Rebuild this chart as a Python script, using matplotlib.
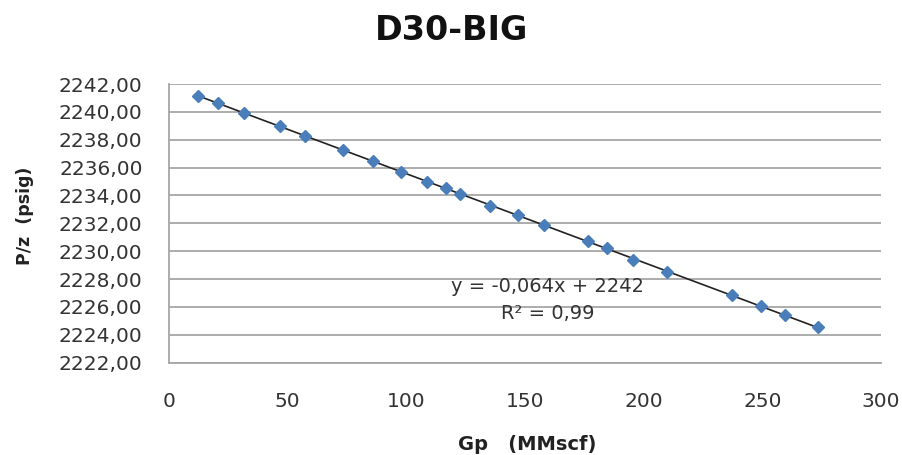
import numpy as np
import matplotlib
matplotlib.use('Agg')
import matplotlib.pyplot as plt
from matplotlib.ticker import FuncFormatter

plt.rcParams['font.family'] = ['DejaVu Sans']

# Cumulative gas production (MMscf) and P/z (psig)
gp = [12.4, 20.5, 31.8, 46.8, 57.4, 73.5, 85.9, 97.8, 108.7, 116.9, 122.8,
      135.4, 147.1, 157.9, 176.4, 184.4, 195.4, 209.8, 237.1, 249.4, 259.5, 273.4]
pz = [2241.16, 2240.61, 2239.90, 2238.98, 2238.27, 2237.26, 2236.47, 2235.70,
      2234.99, 2234.51, 2234.10, 2233.26, 2232.60, 2231.86, 2230.73, 2230.23,
      2229.37, 2228.50, 2226.85, 2226.06, 2225.42, 2224.56]

title = 'D30-BIG'
eq_text = 'y = -0,064x + 2242'
r2_text = 'R² = 0,99'

fig = plt.figure(figsize=(9.02, 4.55), dpi=100)
ax = fig.add_axes([169 / 902, 1 - 362.7 / 455, (881 - 169) / 902, (362.7 - 84) / 455])

# linear trend line over the data range
slope, intercept = np.polyfit(gp, pz, 1)
xs = np.array([min(gp), max(gp)])
ax.plot(xs, slope * xs + intercept, color='#222222', lw=1.2, zorder=2)

ax.plot(gp, pz, linestyle='none', marker='D', markersize=6.3,
        color='#4A7EBB', markeredgecolor='#4A7EBB', zorder=3)

ax.set_xlim(0, 300)
ax.set_ylim(2222, 2242)
ax.set_xticks(np.arange(0, 301, 50))
ax.set_yticks(np.arange(2222, 2243, 2))
ax.yaxis.set_major_formatter(FuncFormatter(lambda v, p: f'{v:.2f}'.replace('.', ',')))

ax.grid(axis='y', color='#a6a6a6', lw=1.3)
ax.set_axisbelow(True)
for s in ['top', 'right']:
    ax.spines[s].set_visible(False)
for s in ['left', 'bottom']:
    ax.spines[s].set_color('#a6a6a6')
    ax.spines[s].set_linewidth(1.3)
ax.tick_params(axis='both', length=0, labelsize=14.5, colors='#333333')
ax.tick_params(axis='x', pad=21)
ax.tick_params(axis='y', pad=19)

ax.set_xlabel('Gp   (MMscf)', fontsize=14, fontweight='bold', color='#222222', va='center')
ax.set_ylabel('P/z  (psig)', fontsize=12.5, fontweight='bold', color='#222222', va='center')
ax.xaxis.set_label_coords(0.503, -0.292)
ax.yaxis.set_label_coords(-0.202, 0.526)

fig.text(452 / 902, 1 - 31 / 455, title, ha='center', va='center',
         fontsize=24, fontweight='bold', color='#111111')
ax.text(0.531, 0.272, eq_text, transform=ax.transAxes, ha='center', va='center',
        fontsize=14, color='#333333')
ax.text(0.532, 0.178, r2_text, transform=ax.transAxes, ha='center', va='center',
        fontsize=14, color='#333333')

fig.savefig('out.png', dpi=100)
